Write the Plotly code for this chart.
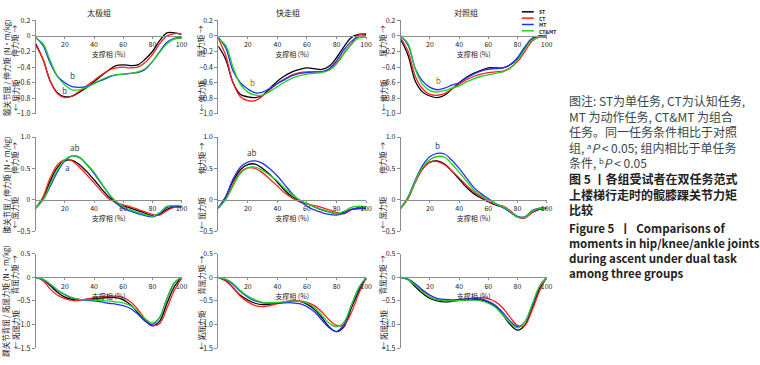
import plotly.graph_objects as go

W, H = 760, 365
FONT = "Noto Sans CJK SC, Noto Sans, sans-serif"

phase = [0, 5, 10, 15, 20, 25, 30, 35, 40, 45, 50, 55, 60, 65, 70, 75, 80, 85, 90, 95, 100]
conditions = ["ST", "CT", "MT", "CT&MT"]
colors = {"ST": "#000000", "CT": "#ff1f1f", "MT": "#2030ff", "CT&MT": "#1fd21f"}
groups = ["太极组", "快走组", "对照组"]

# Hip (row 1)
hip_taiji = {
    "ST":    [-0.10, -0.30, -0.58, -0.73, -0.78, -0.77, -0.72, -0.66, -0.59, -0.51, -0.44, -0.38, -0.37, -0.38, -0.37, -0.30, -0.20, -0.06, 0.04, 0.04, 0.02],
    "CT":    [-0.12, -0.30, -0.58, -0.74, -0.79, -0.77, -0.71, -0.64, -0.57, -0.50, -0.44, -0.41, -0.40, -0.41, -0.40, -0.34, -0.24, -0.10, 0.00, 0.03, 0.03],
    "MT":    [-0.02, -0.12, -0.35, -0.52, -0.60, -0.65, -0.66, -0.65, -0.61, -0.57, -0.53, -0.50, -0.49, -0.48, -0.47, -0.43, -0.33, -0.20, -0.08, -0.03, -0.02],
    "CT&MT": [-0.03, -0.10, -0.32, -0.52, -0.63, -0.69, -0.69, -0.66, -0.61, -0.56, -0.52, -0.50, -0.49, -0.48, -0.46, -0.42, -0.33, -0.21, -0.10, -0.04, -0.03],
}
hip_walk = {
    "ST":    [-0.13, -0.30, -0.60, -0.75, -0.78, -0.79, -0.76, -0.67, -0.58, -0.51, -0.46, -0.43, -0.41, -0.42, -0.43, -0.39, -0.28, -0.14, -0.02, 0.02, 0.02],
    "CT":    [-0.03, -0.25, -0.60, -0.78, -0.83, -0.83, -0.77, -0.69, -0.61, -0.55, -0.50, -0.47, -0.46, -0.46, -0.46, -0.43, -0.35, -0.22, -0.10, 0.01, 0.03],
    "MT":    [-0.02, -0.15, -0.45, -0.60, -0.68, -0.73, -0.72, -0.67, -0.61, -0.56, -0.51, -0.48, -0.47, -0.46, -0.46, -0.42, -0.32, -0.18, -0.07, -0.01, 0.00],
    "CT&MT": [-0.04, -0.12, -0.40, -0.62, -0.72, -0.76, -0.76, -0.71, -0.65, -0.59, -0.54, -0.51, -0.49, -0.48, -0.47, -0.44, -0.36, -0.23, -0.11, -0.03, -0.02],
}
hip_ctrl = {
    "ST":    [-0.05, -0.25, -0.58, -0.72, -0.77, -0.79, -0.76, -0.68, -0.60, -0.53, -0.48, -0.44, -0.41, -0.41, -0.41, -0.37, -0.29, -0.16, -0.04, 0.00, 0.00],
    "CT":    [-0.03, -0.20, -0.52, -0.68, -0.75, -0.76, -0.74, -0.68, -0.62, -0.56, -0.52, -0.49, -0.47, -0.46, -0.45, -0.41, -0.33, -0.20, -0.07, -0.01, 0.01],
    "MT":    [0.00, -0.12, -0.42, -0.58, -0.66, -0.69, -0.67, -0.63, -0.60, -0.54, -0.49, -0.45, -0.43, -0.42, -0.41, -0.37, -0.28, -0.14, -0.03, -0.01, -0.02],
    "CT&MT": [0.00, -0.10, -0.43, -0.62, -0.70, -0.72, -0.70, -0.67, -0.64, -0.59, -0.55, -0.52, -0.50, -0.48, -0.46, -0.41, -0.31, -0.17, -0.05, -0.02, -0.02],
}
# Knee (row 2)
knee_taiji = {
    "ST":    [-0.13, 0.02, 0.30, 0.52, 0.62, 0.63, 0.56, 0.45, 0.32, 0.18, 0.05, -0.04, -0.09, -0.13, -0.17, -0.21, -0.25, -0.23, -0.15, -0.11, -0.11],
    "CT":    [-0.13, 0.05, 0.35, 0.56, 0.64, 0.62, 0.52, 0.40, 0.27, 0.14, 0.02, -0.04, -0.08, -0.11, -0.15, -0.19, -0.23, -0.24, -0.17, -0.12, -0.12],
    "MT":    [-0.13, 0.00, 0.22, 0.45, 0.62, 0.70, 0.67, 0.56, 0.42, 0.26, 0.10, -0.05, -0.13, -0.18, -0.22, -0.25, -0.27, -0.22, -0.12, -0.10, -0.10],
    "CT&MT": [-0.13, 0.00, 0.25, 0.48, 0.64, 0.70, 0.68, 0.57, 0.44, 0.27, 0.10, -0.02, -0.10, -0.16, -0.20, -0.23, -0.26, -0.20, -0.10, -0.09, -0.09],
}
knee_walk = {
    "ST":    [-0.13, 0.05, 0.30, 0.48, 0.56, 0.57, 0.50, 0.40, 0.28, 0.15, 0.05, -0.02, -0.06, -0.11, -0.16, -0.19, -0.22, -0.20, -0.15, -0.14, -0.14],
    "CT":    [-0.13, 0.02, 0.25, 0.44, 0.51, 0.50, 0.43, 0.33, 0.22, 0.11, 0.03, -0.03, -0.07, -0.09, -0.12, -0.16, -0.20, -0.22, -0.16, -0.12, -0.12],
    "MT":    [-0.13, 0.05, 0.33, 0.52, 0.60, 0.62, 0.58, 0.49, 0.38, 0.24, 0.10, -0.01, -0.10, -0.16, -0.20, -0.23, -0.24, -0.21, -0.15, -0.13, -0.14],
    "CT&MT": [-0.13, 0.00, 0.22, 0.42, 0.51, 0.52, 0.47, 0.39, 0.30, 0.18, 0.08, 0.00, -0.06, -0.11, -0.15, -0.19, -0.22, -0.18, -0.12, -0.10, -0.11],
}
knee_ctrl = {
    "ST":    [-0.13, 0.03, 0.30, 0.50, 0.60, 0.62, 0.57, 0.46, 0.33, 0.20, 0.10, 0.03, -0.03, -0.08, -0.12, -0.19, -0.27, -0.28, -0.20, -0.15, -0.14],
    "CT":    [-0.13, 0.02, 0.28, 0.49, 0.60, 0.61, 0.56, 0.46, 0.35, 0.23, 0.13, 0.05, -0.02, -0.07, -0.10, -0.17, -0.27, -0.29, -0.20, -0.14, -0.13],
    "MT":    [-0.13, 0.05, 0.32, 0.55, 0.69, 0.74, 0.73, 0.63, 0.50, 0.35, 0.20, 0.10, 0.02, -0.06, -0.12, -0.19, -0.26, -0.27, -0.17, -0.13, -0.13],
    "CT&MT": [-0.13, 0.04, 0.30, 0.52, 0.64, 0.69, 0.68, 0.57, 0.44, 0.30, 0.16, 0.07, 0.00, -0.06, -0.11, -0.18, -0.27, -0.28, -0.18, -0.14, -0.13],
}
# Ankle (row 3)
ankle_taiji = {
    "ST":    [0.00, -0.05, -0.18, -0.32, -0.42, -0.47, -0.48, -0.47, -0.45, -0.44, -0.43, -0.43, -0.48, -0.58, -0.75, -0.92, -1.03, -0.93, -0.55, -0.20, 0.00],
    "CT":    [0.00, -0.07, -0.25, -0.38, -0.45, -0.49, -0.49, -0.46, -0.43, -0.41, -0.40, -0.40, -0.43, -0.52, -0.68, -0.88, -1.02, -0.98, -0.65, -0.28, -0.02],
    "MT":    [0.00, -0.05, -0.16, -0.28, -0.37, -0.44, -0.47, -0.49, -0.50, -0.52, -0.55, -0.57, -0.60, -0.66, -0.78, -0.93, -1.00, -0.85, -0.45, -0.12, 0.00],
    "CT&MT": [0.00, -0.04, -0.14, -0.27, -0.36, -0.43, -0.47, -0.48, -0.48, -0.49, -0.50, -0.52, -0.54, -0.60, -0.72, -0.88, -0.97, -0.85, -0.45, -0.12, 0.00],
}
ankle_walk = {
    "ST":    [0.00, -0.07, -0.22, -0.38, -0.48, -0.55, -0.58, -0.57, -0.55, -0.52, -0.50, -0.51, -0.57, -0.68, -0.85, -1.05, -1.15, -1.05, -0.65, -0.30, 0.00],
    "CT":    [0.00, -0.07, -0.22, -0.40, -0.52, -0.60, -0.62, -0.60, -0.56, -0.52, -0.50, -0.50, -0.53, -0.60, -0.73, -0.90, -1.02, -1.01, -0.75, -0.35, -0.02],
    "MT":    [0.00, -0.05, -0.15, -0.30, -0.42, -0.50, -0.54, -0.55, -0.55, -0.54, -0.54, -0.56, -0.62, -0.73, -0.90, -1.07, -1.15, -1.00, -0.60, -0.25, 0.00],
    "CT&MT": [0.00, -0.04, -0.13, -0.28, -0.40, -0.48, -0.53, -0.54, -0.53, -0.52, -0.50, -0.51, -0.55, -0.64, -0.80, -0.97, -1.05, -0.95, -0.60, -0.22, 0.00],
}
ankle_ctrl = {
    "ST":    [0.00, -0.05, -0.20, -0.34, -0.45, -0.50, -0.52, -0.51, -0.49, -0.48, -0.47, -0.48, -0.53, -0.63, -0.80, -1.00, -1.12, -1.02, -0.65, -0.25, 0.00],
    "CT":    [0.00, -0.05, -0.15, -0.28, -0.38, -0.45, -0.48, -0.49, -0.48, -0.46, -0.44, -0.43, -0.45, -0.52, -0.65, -0.85, -1.02, -1.02, -0.70, -0.30, 0.00],
    "MT":    [0.00, -0.04, -0.14, -0.27, -0.38, -0.45, -0.47, -0.48, -0.47, -0.46, -0.45, -0.46, -0.51, -0.60, -0.75, -0.93, -1.05, -0.95, -0.60, -0.20, 0.00],
    "CT&MT": [0.00, -0.05, -0.17, -0.31, -0.42, -0.48, -0.50, -0.50, -0.49, -0.48, -0.48, -0.50, -0.55, -0.64, -0.80, -0.97, -1.07, -0.95, -0.58, -0.20, 0.00],
}

panels = [[hip_taiji, hip_walk, hip_ctrl],
          [knee_taiji, knee_walk, knee_ctrl],
          [ankle_taiji, ankle_walk, ankle_ctrl]]

row_ranges = [[-1.0, 0.2], [-0.5, 1.0], [-1.5, 0.5]]
row_tickvals = [[0.2, 0, -0.2, -0.4, -0.6, -0.8, -1.0], [1.0, 0.5, 0, -0.5], [0.5, 0, -0.5, -1.0, -1.5]]
row_ticktext = [["0.2", "0", "−0.2", "−0.4", "−0.6", "−0.8", "−1.0"], ["1.0", "0.5", "0", "−0.5"], ["0.5", "0", "−0.5", "−1.0", "−1.5"]]
x_tickvals = [20, 40, 60, 80, 100]
x_title = "支撑相 (%)"

outer_labels = ["髋关节屈 / 伸力矩 (N•m/kg)", "膝关节屈 / 伸力矩 (N•m/kg)", "踝关节背屈 / 跖屈力矩 (N•m/kg)"]
inner_top = [["伸力矩 →", "屈力矩 →", "屈力矩 →"], ["伸力矩 →"] * 3, ["背屈力矩 →"] * 3]
inner_bot = [["← 屈力矩", "← 伸力矩", "← 伸力矩"], ["← 屈力矩"] * 3, ["← 跖屈力矩"] * 3]

# significance marks: (row, col, text, x, y, color)
sig_marks = [
    (0, 0, "b", 25, -0.51, "#1f4e9a"), (0, 0, "b", 20, -0.70, "#1f4e9a"),
    (0, 1, "b", 23, -0.60, "#b0641e"), (0, 2, "b", 25.5, -0.57, "#b0641e"),
    (1, 0, "ab", 27, 0.83, "#3b5320"), (1, 0, "a", 21.5, 0.51, "#1f4e9a"),
    (1, 1, "ab", 23, 0.76, "#3b5320"), (1, 2, "b", 25, 0.87, "#1f4e9a"),
]

caption_note = [
    "图注: ST为单任务, CT为认知任务,",
    "MT 为动作任务, CT&MT 为组合",
    "任务。同一任务条件相比于对照",
    "组, ᵃ<i>P</i> < 0.05; 组内相比于单任务",
    "条件, ᵇ<i>P</i> < 0.05",
]
caption_title_cn = ["图 5 丨各组受试者在双任务范式", "上楼梯行走时的髋膝踝关节力矩", "比较"]
caption_title_en = ["Figure 5  丨  Comparisons of", "moments in hip/knee/ankle joints",
                    "during ascent under dual task", "among three groups"]

cols_px = [(36, 183), (220, 369), (404, 551)]
rows_px = [(14.7, 111), (134.7, 231.7), (254.7, 351.7)]
label_x_px = [(6, 15), (None, 203), (None, 386)]

fig = go.Figure()
layout = dict(width=W, height=H, margin=dict(l=0, r=0, t=0, b=0),
              paper_bgcolor="white", plot_bgcolor="white", showlegend=False,
              font=dict(family=FONT, size=7, color="#222"))
annotations = []
AX = "#8c8c8c"

for r in range(3):
    for c in range(3):
        i = r * 3 + c + 1
        xd = [cols_px[c][0] / W, cols_px[c][1] / W]
        yd = [1 - rows_px[r][1] / H, 1 - rows_px[r][0] / H]
        ymin, ymax = row_ranges[r]
        pos = yd[0] + (0 - ymin) / (ymax - ymin) * (yd[1] - yd[0])
        xa = "xaxis" if i == 1 else f"xaxis{i}"
        ya = "yaxis" if i == 1 else f"yaxis{i}"
        xs = "x" if i == 1 else f"x{i}"
        ys = "y" if i == 1 else f"y{i}"
        layout[xa] = dict(domain=xd, range=[0, 100], anchor="free", position=pos,
                          showline=True, linecolor=AX, linewidth=1, ticks="outside", ticklen=2,
                          tickcolor=AX, tickvals=x_tickvals, showgrid=False, zeroline=False,
                          tickfont=dict(size=7, color="#222"),
                          title=dict(text=x_title, font=dict(size=7, color="#222"), standoff=1))
        layout[ya] = dict(domain=yd, range=row_ranges[r], anchor=xs,
                          showline=True, linecolor=AX, linewidth=1, ticks="outside", ticklen=3,
                          tickcolor=AX, tickvals=row_tickvals[r], ticktext=row_ticktext[r],
                          showgrid=False, zeroline=False, tickfont=dict(size=7, color="#222"))
        data = panels[r][c]
        for cond in conditions:
            fig.add_trace(go.Scatter(x=phase, y=data[cond], mode="lines", name=cond,
                                     line=dict(color=colors[cond], width=1.3, shape="spline", smoothing=1.0),
                                     xaxis=xs, yaxis=ys, hoverinfo="skip"))
        ymid = (yd[0] + yd[1]) / 2
        top_y = yd[1] - (yd[1] - yd[0]) * 0.22
        bot_y = yd[0] + (yd[1] - yd[0]) * 0.2
        ox, ix = label_x_px[c]
        if ox is not None:
            annotations.append(dict(text=outer_labels[r], x=ox / W, y=ymid, xref="paper", yref="paper",
                                    textangle=-90, showarrow=False, xanchor="center", yanchor="middle",
                                    font=dict(size=7.5, color="#222")))
        annotations.append(dict(text=inner_top[r][c], x=ix / W, y=top_y, xref="paper", yref="paper",
                                textangle=-90, showarrow=False, xanchor="center", yanchor="middle",
                                font=dict(size=7.5, color="#222")))
        annotations.append(dict(text=inner_bot[r][c], x=ix / W, y=bot_y, xref="paper", yref="paper",
                                textangle=-90, showarrow=False, xanchor="center", yanchor="middle",
                                font=dict(size=7.5, color="#222")))

for (r, c, t, x, y, col) in sig_marks:
    i = r * 3 + c + 1
    xs = "x" if i == 1 else f"x{i}"
    ys = "y" if i == 1 else f"y{i}"
    annotations.append(dict(text=t, x=x, y=y, xref=xs, yref=ys, showarrow=False,
                            font=dict(size=8, color=col)))

title_px = [100, 290, 470]
for g, tx in zip(groups, title_px):
    annotations.append(dict(text=g, x=tx / W, y=1 - 7 / H, xref="paper", yref="paper",
                            showarrow=False, xanchor="center", yanchor="middle",
                            font=dict(size=8, color="#222")))

# compact legend: one text block + line samples
shapes = []
LEG_FS = 5
leg_step = LEG_FS * 1.3
leg_top = 6
for k, cond in enumerate(conditions):
    yy = 1 - (leg_top + k * leg_step) / H
    shapes.append(dict(type="line", xref="paper", yref="paper", x0=526 / W, x1=538 / W, y0=yy, y1=yy,
                       line=dict(color=colors[cond], width=1.5)))
leg_mid = leg_top + 1.5 * leg_step
annotations.append(dict(text="<br>".join(f"<b>{c}</b>" for c in conditions),
                        x=541 / W, y=1 - leg_mid / H, xref="paper", yref="paper",
                        showarrow=False, xanchor="left", yanchor="middle", align="left",
                        font=dict(size=LEG_FS, color="#222")))

# caption on the right, as three text blocks
cap_x = 572 / W
blocks = [
    (caption_note, 98, 12, "#34494d", False),
    (caption_title_cn, 178, 12, "#222222", True),
    (caption_title_en, 227, 12.3, "#222222", True),
]
for lines, first_px, fs, col, bold in blocks:
    step = fs * 1.3
    mid = first_px + step * (len(lines) - 1) / 2
    body = "<br>".join(lines)
    if bold:
        body = "<br>".join(f"<b>{l}</b>" for l in lines)
    font_size = fs if not (lines is caption_title_en) else 11
    # English block: keep 11 px glyphs but 16 px line pitch via line-spacing of a 12.3 px block
    annotations.append(dict(text=body, x=cap_x, y=1 - mid / H, xref="paper", yref="paper",
                            showarrow=False, xanchor="left", yanchor="middle", align="left",
                            font=dict(size=fs if lines is not caption_title_en else 11.5,
                                      color=col, family=FONT)))

layout["annotations"] = annotations
layout["shapes"] = shapes
fig.update_layout(**layout)
fig.write_html("out.html", config={"displayModeBar": False, "staticPlot": True})

# remove default page margins so the figure sits at the window origin
with open("out.html", "r", encoding="utf-8") as f:
    html = f.read()
html = html.replace("<head>", "<head><style>html,body{margin:0;padding:0;overflow:hidden;}</style>", 1)
with open("out.html", "w", encoding="utf-8") as f:
    f.write(html)
